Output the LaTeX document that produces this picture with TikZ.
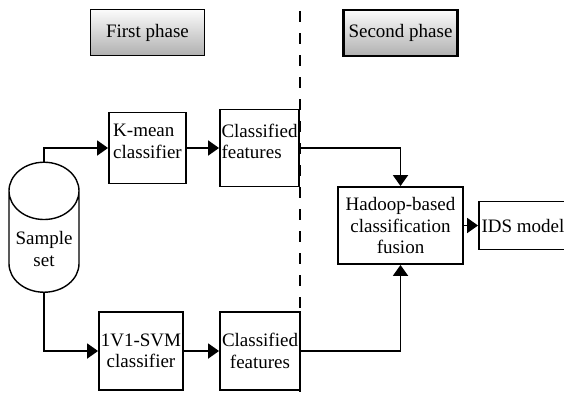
\documentclass[tikz,border=0pt]{standalone}
\usepackage{fontspec}
\setmainfont{Liberation Serif}
\usetikzlibrary{arrows.meta,positioning,shapes.geometric}

\begin{document}
\begin{tikzpicture}[x=1pt,y=1pt,on grid,line width=1.9pt,
  font=\fontsize{19}{21.5}\selectfont,
  >={Triangle[length=11pt,width=15pt]},
  box/.style={draw, rectangle, inner sep=1pt},
  phase/.style={draw, rectangle, top color=gray!3, bottom color=gray!62,
    minimum width=114pt, minimum height=46pt}]
   \useasboundingbox (0,0) rectangle (564,392);
   % first phase
   \node[draw, cylinder, shape border rotate=90, aspect=0.9, minimum width=70pt,
     minimum height=130pt, line width=1.4pt, align=center] (sample) at (44,144)
     {\\[-6pt]Sample\\set};
   \node[box, minimum width=77pt, minimum height=71pt, align=left] (kmean)
     [above right=100pt and 103.5pt of sample] {K-mean\\classifier\\[-8pt]};
   \node[box, minimum width=84pt, minimum height=78pt, align=center] (svm)
     [below right=103pt and 97pt of sample] {1V1-SVM\\classifier};
   \node[box, minimum width=79pt, minimum height=77pt, align=left] (feat1)
     [right=112pt of kmean] {Classified\\features\\[-8pt]};
   \node[box, minimum width=80pt, minimum height=78pt, align=center] (feat2)
     [right=119pt of svm] {Classified\\features};
   % second phase
   \node[box, minimum width=125pt, minimum height=77pt, align=center] (fusion)
     [above right=22.5pt and 356.5pt of sample] {Hadoop-based\\classification\\fusion};
   \node[box, minimum width=88pt, minimum height=48pt, inner xsep=0.5pt] (ids)
     [right=122.5pt of fusion] {IDS model};
   \node[phase, line width=1.2pt] (first) [above=115.5pt of kmean] {First phase};
   \node[phase, line width=2.4pt] (second) [above=192.5pt of fusion] {Second phase};

   \draw[dash pattern=on 11pt off 11pt, line width=2pt] (300,381) -- (300,0);

   \draw[->] (sample.north) |- (kmean);
   \draw[->] (sample.south) |- (svm);
   \path[->]
   (kmean)  edge (feat1)
   (svm)    edge (feat2)
   (fusion) edge (ids);
   \draw[->] (feat1) -| (fusion);
   \draw[->] (feat2) -| (fusion);
\end{tikzpicture}
\end{document}
